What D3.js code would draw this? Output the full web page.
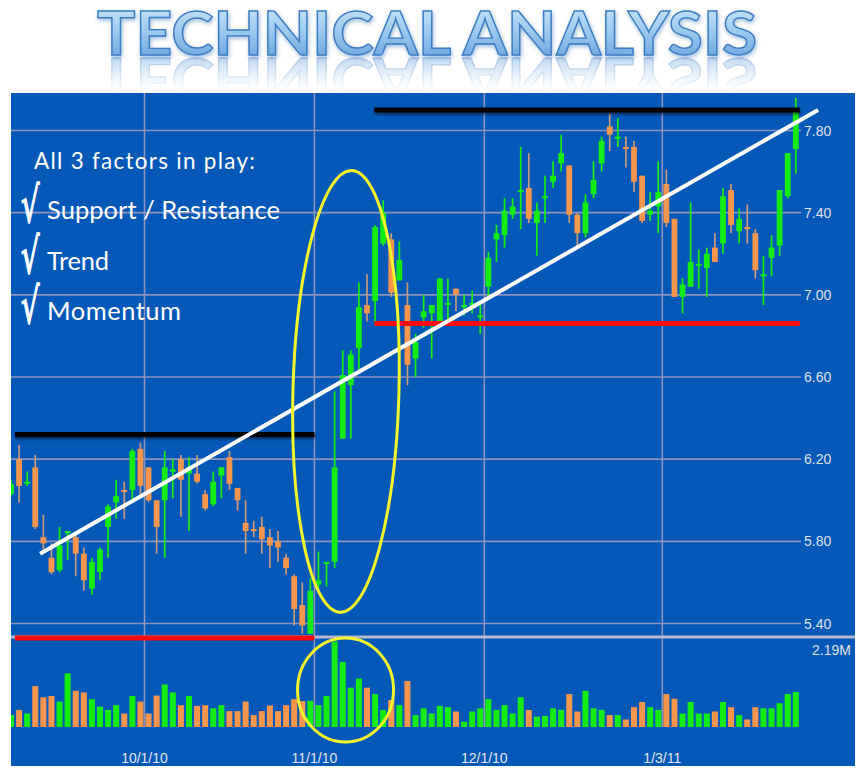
<!DOCTYPE html>
<html><head><meta charset="utf-8">
<script src="https://cdn.jsdelivr.net/npm/d3@7"></script>
<style>body{margin:0;background:#fff;} svg{display:block}</style>
</head><body>
<svg id="c" width="866" height="776"></svg>
<script>
// ---------------- DATA ----------------
const dates = [
"2010-09-08","2010-09-09","2010-09-10","2010-09-13","2010-09-14","2010-09-15","2010-09-16","2010-09-17",
"2010-09-20","2010-09-21","2010-09-22","2010-09-23","2010-09-24","2010-09-27","2010-09-28","2010-09-29","2010-09-30",
"2010-10-01","2010-10-04","2010-10-05","2010-10-06","2010-10-07","2010-10-08","2010-10-11","2010-10-12","2010-10-13",
"2010-10-14","2010-10-15","2010-10-18","2010-10-19","2010-10-20","2010-10-21","2010-10-22","2010-10-25","2010-10-26",
"2010-10-27","2010-10-28","2010-10-29",
"2010-11-01","2010-11-02","2010-11-03","2010-11-04","2010-11-05","2010-11-08","2010-11-09","2010-11-10","2010-11-11",
"2010-11-12","2010-11-15","2010-11-16","2010-11-17","2010-11-18","2010-11-19","2010-11-22","2010-11-23","2010-11-24",
"2010-11-26","2010-11-29","2010-11-30",
"2010-12-01","2010-12-02","2010-12-03","2010-12-06","2010-12-07","2010-12-08","2010-12-09","2010-12-10","2010-12-13",
"2010-12-14","2010-12-15","2010-12-16","2010-12-17","2010-12-20","2010-12-21","2010-12-22","2010-12-23","2010-12-27",
"2010-12-28","2010-12-29","2010-12-30","2010-12-31",
"2011-01-03","2011-01-04","2011-01-05","2011-01-06","2011-01-07","2011-01-10","2011-01-11","2011-01-12","2011-01-13",
"2011-01-14","2011-01-18","2011-01-19","2011-01-20","2011-01-21","2011-01-24","2011-01-25","2011-01-26"];
const opens = [6.03,6.20,6.08,6.16,5.82,5.72,5.66,5.84,5.82,5.74,5.57,5.65,5.87,5.99,6.05,6.05,6.25,
6.16,6.00,6.00,6.14,6.20,6.13,6.13,6.03,5.98,6.12,6.21,6.06,5.89,5.86,5.87,5.82,5.80,5.72,5.63,5.49,5.35,
5.59,5.69,5.70,6.30,6.56,6.74,6.95,6.97,7.25,7.27,7.07,6.95,6.69,6.89,6.91,6.86,6.955,7.03,6.94,6.95,6.89,
7.04,7.27,7.29,7.39,7.50,7.52,7.35,7.47,7.55,7.64,7.63,7.39,7.30,7.49,7.64,7.82,7.76,7.72,7.72,7.58,7.39,7.43,
7.54,7.37,6.99,7.04,7.145,7.13,7.23,7.25,7.51,7.31,7.33,7.30,7.09,7.18,7.24,7.48,7.71];
const highs = [6.10,6.27,6.14,6.22,5.93,5.79,5.87,5.85,5.84,5.77,5.72,5.77,5.98,6.10,6.09,6.25,6.28,
6.16,6.00,6.24,6.20,6.22,6.21,6.22,6.05,6.14,6.16,6.24,6.06,6.00,5.90,5.92,5.86,5.85,5.74,5.64,5.60,5.62,
5.75,5.70,6.53,6.73,6.73,7.06,7.10,7.34,7.46,7.30,7.26,7.06,6.81,7.00,6.95,7.08,7.08,7.03,7.00,7.02,6.97,
7.21,7.34,7.47,7.47,7.72,7.69,7.45,7.58,7.65,7.78,7.63,7.40,7.49,7.65,7.77,7.88,7.86,7.77,7.75,7.58,7.50,7.65,
7.61,7.37,7.08,7.45,7.22,7.23,7.30,7.52,7.54,7.42,7.44,7.32,7.19,7.29,7.51,7.69,7.96];
const lows = [6.02,5.99,6.07,5.86,5.76,5.64,5.65,5.71,5.63,5.56,5.54,5.61,5.72,5.91,5.91,6.00,6.03,
5.99,5.74,5.72,6.01,5.92,5.85,6.08,5.95,5.97,6.01,6.05,5.95,5.74,5.82,5.74,5.67,5.70,5.64,5.39,5.35,5.35,
5.55,5.58,5.67,6.30,6.30,6.63,6.87,6.86,7.24,6.99,7.07,6.56,6.60,6.84,6.69,6.86,6.86,6.92,6.90,6.91,6.81,
6.99,7.16,7.23,7.37,7.32,7.35,7.19,7.35,7.52,7.60,7.35,7.24,7.28,7.47,7.60,7.70,7.72,7.62,7.50,7.35,7.36,7.30,
7.33,6.99,6.91,7.04,7.03,6.99,7.16,7.20,7.30,7.25,7.25,7.08,6.95,7.09,7.19,7.47,7.59];
const closes = [6.08,6.07,6.09,5.87,5.79,5.65,5.78,5.85,5.74,5.61,5.70,5.76,5.97,6.02,6.04,6.24,6.07,
6.00,5.87,6.16,6.15,6.10,6.16,6.09,5.96,6.09,6.16,6.08,6.00,5.85,5.85,5.81,5.78,5.77,5.67,5.47,5.39,5.56,
5.61,5.70,6.16,6.61,6.71,6.94,6.91,7.33,7.40,7.01,7.17,6.66,6.77,6.92,6.95,7.08,6.96,7.00,6.95,6.96,6.90,
7.18,7.30,7.41,7.43,7.51,7.37,7.41,7.48,7.58,7.69,7.39,7.30,7.45,7.56,7.75,7.78,7.77,7.71,7.55,7.36,7.41,7.50,
7.35,6.99,7.05,7.16,7.15,7.20,7.16,7.48,7.34,7.37,7.32,7.12,7.10,7.23,7.51,7.69,7.89];
// volume in millions of shares
const volumes = [0.30,0.43,0.34,1.03,0.75,0.78,0.64,1.35,0.91,0.87,0.70,0.51,0.43,0.55,0.34,0.78,0.64,
0.34,0.79,1.07,0.87,0.55,0.78,0.53,0.55,0.47,0.55,0.40,0.40,0.64,0.30,0.40,0.54,0.40,0.55,0.70,0.65,0.66,
0.55,0.78,2.15,1.64,0.99,1.22,0.99,0.83,0.43,0.68,0.55,1.16,0.30,0.47,0.34,0.53,0.50,0.39,0.13,0.39,0.47,
0.70,0.43,0.55,0.34,0.75,0.43,0.26,0.28,0.47,0.43,0.83,0.39,0.91,0.47,0.43,0.30,0.30,0.19,0.50,0.63,0.50,0.43,
0.83,0.71,0.34,0.63,0.34,0.34,0.39,0.63,0.50,0.30,0.19,0.50,0.47,0.47,0.60,0.83,0.88];
const priceTicks = [5.40, 5.80, 6.20, 6.60, 7.00, 7.40, 7.80];
const dateTicks = ["2010-10-01", "2010-11-01", "2010-12-01", "2011-01-03"];
const dateTickLabels = ["10/1/10", "11/1/10", "12/1/10", "1/3/11"];
const volumeMax = 2.19;
const volumeMaxLabel = "2.19M";
const titleText = "TECHNICAL ANALYSIS";
const noteHeading = "All 3 factors in play:";
const noteItems = ["Support / Resistance", "Trend", "Momentum"];
// annotation levels (price) and spans (trading-day index)
const resistanceLevels = [6.32, 7.90];
const supportLevels = [5.33, 6.86];
const levelSpans = [[0.5, 37.5], [44.9, 97.5]];
const trendIdx = [3.6, 99.75];
const trendPrice = [5.74, 7.90];

// ---------------- LAYOUT ----------------
const W = 866, H = 776;
const panel = {x0: 11, x1: 855, y0: 93, y1: 766};
const plotRight = 801;
const svg = d3.select("#c");
const defs = svg.append("defs");

const x = d3.scaleLinear().domain([0, dates.length - 1]).range([11, 795.8]);
const y = d3.scaleLinear().domain([5.40, 7.80]).range([623.5, 130.5]);
const yv = d3.scaleLinear().domain([0, volumeMax]).range([727, 640]);
const idx = d => dates.indexOf(d);

const GREEN = "#14ec14", ORANGE = "#f7964c", ORANGE_WICK = "#c79a7c";
const GRID = "#8c93bd";

// ---------------- TITLE ----------------
const tg = defs.append("linearGradient").attr("id", "tg").attr("x1", 0).attr("y1", 0).attr("x2", 0).attr("y2", 1);
tg.append("stop").attr("offset", 0).attr("stop-color", "#d9edfc");
tg.append("stop").attr("offset", 0.5).attr("stop-color", "#9dcaf0");
tg.append("stop").attr("offset", 1).attr("stop-color", "#5b9ad8");
const glow = defs.append("filter").attr("id", "glow").attr("filterUnits", "userSpaceOnUse")
  .attr("x", 0).attr("y", 0).attr("width", W).attr("height", 92);
glow.append("feGaussianBlur").attr("in", "SourceAlpha").attr("stdDeviation", 2.2).attr("result", "b");
glow.append("feOffset").attr("in", "b").attr("dx", 1).attr("dy", 2).attr("result", "o");
glow.append("feFlood").attr("flood-color", "#3a78bd").attr("flood-opacity", 0.5);
glow.append("feComposite").attr("in2", "o").attr("operator", "in").attr("result", "s");
const gm = glow.append("feMerge");
gm.append("feMergeNode").attr("in", "s");
gm.append("feMergeNode").attr("in", "SourceGraphic");

const rg = defs.append("linearGradient").attr("id", "rg").attr("gradientUnits", "userSpaceOnUse")
  .attr("x1", 0).attr("y1", 57).attr("x2", 0).attr("y2", 91);
rg.append("stop").attr("offset", 0).attr("stop-color", "#fff").attr("stop-opacity", 0.45);
rg.append("stop").attr("offset", 1).attr("stop-color", "#fff").attr("stop-opacity", 0);
const rmask = defs.append("mask").attr("id", "rmask").attr("maskUnits", "userSpaceOnUse")
  .attr("x", 0).attr("y", 0).attr("width", W).attr("height", 100);
rmask.append("rect").attr("x", 0).attr("y", 57).attr("width", W).attr("height", 35).attr("fill", "url(#rg)");

const titleBase = 55;
function drawTitle(g) {
  g.append("text").attr("x", 427).attr("y", titleBase).attr("text-anchor", "middle")
    .attr("font-family", "Lato, 'Open Sans', sans-serif").attr("font-weight", 700).attr("font-size", 62)
    .attr("textLength", 660).attr("lengthAdjust", "spacingAndGlyphs")
    .attr("fill", "url(#tg)").attr("stroke", "#3c7cc2").attr("stroke-width", 1.4)
    .text(titleText);
}
const refl = svg.append("g").attr("mask", "url(#rmask)")
  .append("g").attr("transform", `translate(0,${2 * titleBase + 3}) scale(1,-1)`);
drawTitle(refl);
drawTitle(svg.append("g").attr("filter", "url(#glow)"));

// ---------------- PANEL ----------------
svg.append("rect").attr("x", panel.x0).attr("y", panel.y0).attr("width", panel.x1 - panel.x0)
  .attr("height", panel.y1 - panel.y0).attr("fill", "#0459b8");
defs.append("clipPath").attr("id", "clip").append("rect").attr("x", panel.x0).attr("y", panel.y0)
  .attr("width", panel.x1 - panel.x0).attr("height", panel.y1 - panel.y0);
const P = svg.append("g").attr("clip-path", "url(#clip)");

// horizontal grid + labels
P.append("g").selectAll("line").data(priceTicks).join("line")
  .attr("x1", panel.x0).attr("x2", plotRight).attr("y1", d => y(d)).attr("y2", d => y(d))
  .attr("stroke", GRID).attr("stroke-width", 1.6);
P.append("g").selectAll("text").data(priceTicks).join("text")
  .attr("x", 804).attr("y", d => y(d)).attr("dy", "0.36em")
  .attr("font-family", "'Liberation Sans', Arial, sans-serif").attr("font-size", 14)
  .attr("fill", "#dfe1ea").text(d => d.toFixed(2));

// vertical grid
P.append("g").selectAll("line").data(dateTicks).join("line")
  .attr("x1", d => x(idx(d) - 0.5)).attr("x2", d => x(idx(d) - 0.5))
  .attr("y1", panel.y0).attr("y2", yv(0))
  .attr("stroke", GRID).attr("stroke-width", 1.6);
P.append("g").selectAll("text").data(dateTicks).join("text")
  .attr("x", d => x(idx(d) - 0.5)).attr("y", 763).attr("text-anchor", "middle")
  .attr("font-family", "'Liberation Sans', Arial, sans-serif").attr("font-size", 14)
  .attr("fill", "#e4e6ef").text((d, i) => dateTickLabels[i]);

// separator between price and volume
P.append("line").attr("x1", panel.x0).attr("x2", panel.x1).attr("y1", 637).attr("y2", 637)
  .attr("stroke", "#b4b8cf").attr("stroke-width", 3);
P.append("text").attr("x", 812).attr("y", 655)
  .attr("font-family", "'Liberation Sans', Arial, sans-serif").attr("font-size", 14)
  .attr("fill", "#dfe1ea").text(volumeMaxLabel);

// ---------------- CANDLES ----------------
const candles = dates.map((d, i) => ({i, o: opens[i], h: highs[i], l: lows[i], c: closes[i], v: volumes[i], up: closes[i] >= opens[i]}));
const cg = P.append("g");
cg.selectAll("line").data(candles).join("line")
  .attr("x1", d => x(d.i)).attr("x2", d => x(d.i))
  .attr("y1", d => y(d.h)).attr("y2", d => y(d.l))
  .attr("stroke", d => d.up ? GREEN : ORANGE_WICK).attr("stroke-width", 1.7);
cg.selectAll("rect").data(candles).join("rect")
  .attr("x", d => x(d.i) - 2.9).attr("width", 5.8)
  .attr("y", d => y(Math.max(d.o, d.c)))
  .attr("height", d => Math.max(1.8, Math.abs(y(d.o) - y(d.c))))
  .attr("fill", d => d.up ? GREEN : ORANGE);

// ---------------- VOLUME ----------------
P.append("g").selectAll("rect").data(candles).join("rect")
  .attr("x", d => x(d.i) - 3).attr("width", 6)
  .attr("y", d => yv(d.v)).attr("height", d => yv(0) - yv(d.v))
  .attr("fill", d => d.up ? GREEN : ORANGE);

// ---------------- ANNOTATIONS ----------------
const shadow = defs.append("filter").attr("id", "sh").attr("filterUnits", "userSpaceOnUse")
  .attr("x", 0).attr("y", 0).attr("width", W).attr("height", H);
shadow.append("feGaussianBlur").attr("in", "SourceAlpha").attr("stdDeviation", 1.4).attr("result", "b");
shadow.append("feOffset").attr("in", "b").attr("dx", 1).attr("dy", 2).attr("result", "o");
shadow.append("feComponentTransfer").attr("in", "o").attr("result", "o2")
  .append("feFuncA").attr("type", "linear").attr("slope", 0.5);
const sm = shadow.append("feMerge"); sm.append("feMergeNode").attr("in", "o2"); sm.append("feMergeNode").attr("in", "SourceGraphic");

const A = svg.append("g");
A.selectAll("line.res").data(resistanceLevels).join("line").attr("class", "res")
  .attr("x1", (d, i) => x(levelSpans[i][0])).attr("x2", (d, i) => x(levelSpans[i][1]))
  .attr("y1", d => y(d)).attr("y2", d => y(d))
  .attr("stroke", "#000").attr("stroke-width", 5).attr("filter", "url(#sh)");
A.selectAll("line.sup").data(supportLevels).join("line").attr("class", "sup")
  .attr("x1", (d, i) => x(levelSpans[i][0])).attr("x2", (d, i) => x(levelSpans[i][1]))
  .attr("y1", d => y(d)).attr("y2", d => y(d))
  .attr("stroke", "#ff0a0a").attr("stroke-width", 5);
A.append("line")
  .attr("x1", x(trendIdx[0])).attr("y1", y(trendPrice[0]))
  .attr("x2", x(trendIdx[1])).attr("y2", y(trendPrice[1]))
  .attr("stroke", "#fff").attr("stroke-width", 4);
// momentum ellipse around breakout candles
A.append("ellipse").attr("cx", 0).attr("cy", 0).attr("rx", 53).attr("ry", 221)
  .attr("transform", `translate(${x(41.4)},${y(6.53)}) rotate(1.5)`)
  .attr("fill", "none").attr("stroke", "#f4f52a").attr("stroke-width", 3);
// volume spike circle
A.append("ellipse").attr("cx", x(41.35)).attr("cy", yv(0.93)).attr("rx", 48).attr("ry", 52)
  .attr("fill", "none").attr("stroke", "#f4f52a").attr("stroke-width", 3);

// ---------------- NOTES ----------------
const N = svg.append("g").attr("fill", "#fff");
N.append("text").attr("x", 34).attr("y", 169)
  .attr("font-family", "Lato, 'Open Sans', sans-serif").attr("font-size", 22.5)
  .attr("textLength", 221).attr("lengthAdjust", "spacing").text(noteHeading);
const itemY = [219, 269.5, 320];
const itemW = [233, 62, 134];
noteItems.forEach((t, i) => {
  N.append("text").attr("transform", `translate(21,${itemY[i] + 3}) scale(1.0,1.7)`)
    .attr("font-family", "'DejaVu Sans', sans-serif").attr("font-size", 29)
    .attr("stroke", "#fff").attr("stroke-width", 0.9).text("\u221A");
  N.append("text").attr("x", 47).attr("y", itemY[i])
    .attr("font-family", "Lato, 'Open Sans', sans-serif").attr("font-size", 25.5)
    .attr("textLength", itemW[i]).attr("lengthAdjust", "spacing").text(t);
});
</script>
</body></html>
